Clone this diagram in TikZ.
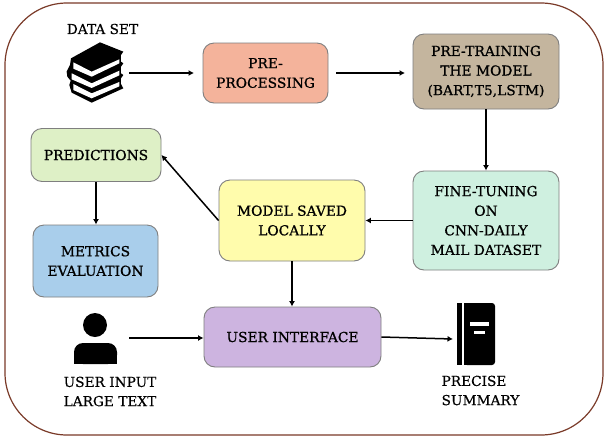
\documentclass[tikz,border=0pt]{standalone}
\usepackage{fontspec}
\setmainfont{DejaVu Serif}
\newfontfamily\boxfont{DejaVu Serif}[FakeBold=0.9]
\newfontfamily\labfont{DejaVu Serif}[FakeBold=0.4]
\usetikzlibrary{arrows.meta}
\definecolor{outerc}{HTML}{7A3A28}
\definecolor{edgec}{HTML}{7F7F7F}
\tikzset{
  x=1pt,y=-1pt,
  box/.style={draw=edgec,line width=.9pt,rounded corners=11pt,align=center,inner sep=0pt,font=\boxfont\fontsize{13.8}{19.6}\selectfont,text=black},
  lab/.style={align=center,inner sep=0pt,font=\labfont\fontsize{13.7}{19.2}\selectfont,text=black},
  conn/.style={draw=black,line width=1.5pt,-{Latex[length=5.5pt,width=6pt]}}
}
\definecolor{cpre}{HTML}{F4B39B}
\definecolor{ctrain}{HTML}{C4B59E}
\definecolor{cfine}{HTML}{CFF0E0}
\definecolor{cmodel}{HTML}{FFFCAC}
\definecolor{cpred}{HTML}{DEF0C6}
\definecolor{cmet}{HTML}{A9CEEB}
\definecolor{cui}{HTML}{CDB4E0}
\newcommand{\bx}[7]{\node[box,fill=#6,minimum width=#4pt,minimum height=#5pt,anchor=center] (#1) at (#2,#3) {#7};}
\begin{document}
\begin{tikzpicture}
\useasboundingbox (0,0) rectangle (605,440);
\fill[white] (0,0) rectangle (605,440);
\draw[outerc,line width=1.2pt,rounded corners=62pt] (5,3) rectangle (603,435);
\bx{pre}{265.5}{73}{125}{60}{cpre}{PRE-\\PROCESSING}
\bx{train}{486}{71.5}{146}{75}{ctrain}{PRE-TRAINING\\THE MODEL\\(BART,T5,LSTM)}
\bx{fine}{486}{220.5}{146}{99}{cfine}{FINE-TUNING\\ON\\CNN-DAILY\\MAIL DATASET}
\bx{model}{292}{220.5}{146}{81}{cmodel}{MODEL SAVED\\LOCALLY}
\bx{pred}{96}{155}{130}{53}{cpred}{PREDICTIONS}
\bx{met}{95.5}{261}{125}{72}{cmet}{METRICS\\EVALUATION}
\bx{ui}{292.5}{337}{177}{60}{cui}{USER INTERFACE}
\node[lab] (tds) at (102.5,29) {DATA SET};
\node[lab,align=left] (tin) at (110,391.5) {USER INPUT\\LARGE TEXT};
\node[lab,align=left] (tout) at (480.5,390.5) {PRECISE\\SUMMARY};
\coordinate (booksR) at (129,73);
\coordinate (userR) at (129,338);
\coordinate (sumL) at (453,339);
% books icon (traced in 3x crop coordinates)
\begin{scope}[shift={(40,10)},x=.3333pt,y=-.3333pt]
 \fill (180,97) -- (250,125) -- (243,135) -- (243,155) -- (250,160) -- (243,170) -- (243,190) -- (250,195) -- (243,205) -- (243,222) -- (250,235) -- (155,278) -- (95,248) -- (88,225) -- (92,212) -- (82,200) -- (80,185) -- (90,165) -- (93,145) -- cycle;
 \fill[white] (100,157) -- (155,185) -- (238,148) -- (238,160) -- (155,200) -- (100,176) -- cycle;
 \fill[white] (95,190) -- (155,220) -- (238,182) -- (238,196) -- (155,234) -- (95,208) -- cycle;
 \fill[white] (100,222) -- (155,250) -- (238,216) -- (238,229) -- (155,265) -- (100,240) -- cycle;
\end{scope}
% user icon
\fill (95,325) circle (12);
\fill[rounded corners=9pt] (74,364) -- (74,343) -- (117,343) -- (117,364) -- cycle;
\fill (74,364) rectangle (117,355);
% summary icon
\fill (457,303) rectangle (462,365);
\fill[rounded corners=3pt] (464,303) -- (495,303) -- (495,365) -- (464,365) -- cycle;
\fill (464,303) rectangle (470,365);
\fill[white] (470,322) rectangle (489,326);
\fill[white] (474,331) rectangle (485,334);
% connectors
\draw[conn] (booksR) -- (194,73);
\draw[conn] (336,73) -- (405,73);
\draw[conn] (train.south) -- (fine.north);
\draw[conn] (fine.west) -- (model.east);
\draw[conn] (model.west) -- (pred.east);
\draw[conn] (pred.south) -- (met.north -| pred.south);
\draw[conn] (model.south) -- (ui.north -| model.south);
\draw[conn] (userR) -- (ui.west |- userR);
\draw[conn] (ui.east) -- (sumL);
\end{tikzpicture}
\end{document}
